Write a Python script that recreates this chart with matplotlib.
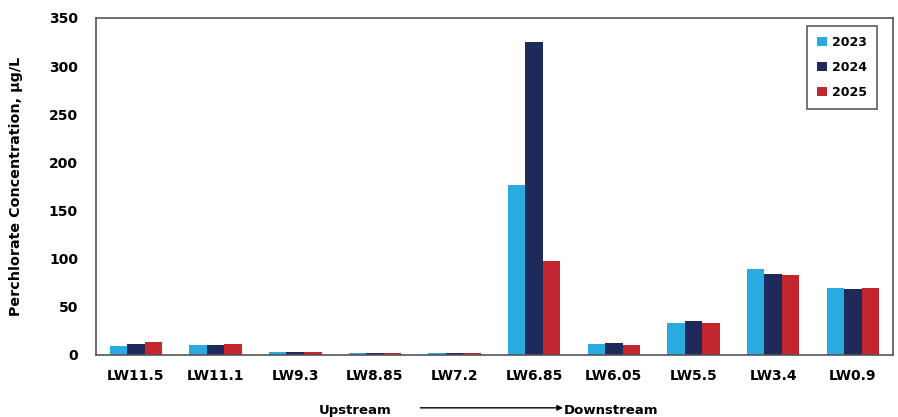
import numpy as np
import matplotlib
matplotlib.use("Agg")
import matplotlib.pyplot as plt

sites = ["LW11.5", "LW11.1", "LW9.3", "LW8.85", "LW7.2", "LW6.85", "LW6.05", "LW5.5", "LW3.4", "LW0.9"]
vals_2023 = [9.5, 10, 2.5, 1.5, 1.5, 176, 11.5, 33, 89, 69.5]
vals_2024 = [11, 10, 2.5, 1.5, 1.5, 325, 12, 35.5, 84.5, 68.5]
vals_2025 = [13, 11.5, 2.5, 1.5, 1.5, 98, 10, 33.5, 83, 69.5]
years = ["2023", "2024", "2025"]
colors = ["#29ABE2", "#1F2A5C", "#C1272D"]

plt.rcParams["font.family"] = ["DejaVu Sans"]
plt.rcParams["font.weight"] = "bold"

fig = plt.figure(figsize=(8.98, 4.17), dpi=100)
ax = fig.add_axes([0.107, 0.149, 0.887, 0.808])

x = np.arange(len(sites))
w = 0.22
for i, (vals, yr, c) in enumerate(zip([vals_2023, vals_2024, vals_2025], years, colors)):
    ax.bar(x + (i - 1) * w, vals, width=w, color=c, label=yr)

ax.set_xlim(-0.5, len(sites) - 0.5)
ax.set_ylim(0, 350)
ax.set_yticks(range(0, 351, 50))
ax.set_xticks(x)
ax.set_xticklabels(sites, fontsize=10, fontweight="bold")
ax.tick_params(axis="y", labelsize=10, length=0, pad=13)
ax.tick_params(axis="x", length=0, pad=10)
for s in ax.spines.values():
    s.set_color("#555555")
    s.set_linewidth(1.2)
ax.set_ylabel("Perchlorate Concentration, µg/L", fontsize=10.3, fontweight="bold", labelpad=19)

leg = ax.legend(loc="upper right", bbox_to_anchor=(0.981, 0.976), fontsize=9, frameon=True,
                fancybox=False, edgecolor="#333333", handlelength=0.8, handleheight=0.8,
                labelspacing=0.95, borderpad=0.8, handletextpad=0.4, borderaxespad=0)
leg.get_frame().set_linewidth(1.2)
for t in leg.get_texts():
    t.set_fontweight("bold")

fig.text(0.395, 0.015, "Upstream", ha="center", va="center", fontsize=9.5, fontweight="bold")
fig.text(0.68, 0.015, "Downstream", ha="center", va="center", fontsize=9.5, fontweight="bold")
fig.add_artist(matplotlib.patches.FancyArrowPatch((0.465, 0.022), (0.63, 0.022), transform=fig.transFigure,
                                                  arrowstyle="-|>", mutation_scale=8, color="black", lw=1))

fig.savefig("out.png", dpi=100)
